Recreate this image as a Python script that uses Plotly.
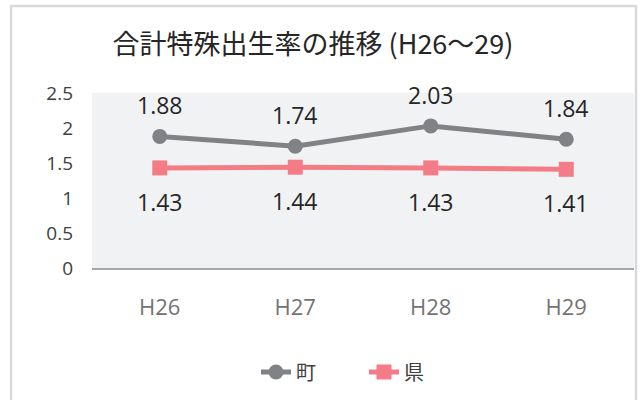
import plotly.graph_objects as go

categories = ["H26", "H27", "H28", "H29"]
town = [1.88, 1.74, 2.03, 1.84]
pref = [1.43, 1.44, 1.43, 1.41]
y_ticks = [0, 0.5, 1, 1.5, 2, 2.5]
y_tick_labels = ["0", "0.5", "1", "1.5", "2", "2.5"]

FONT = "Open Sans, Noto Sans CJK JP, sans-serif"
JP = "Noto Sans CJK JP, sans-serif"
W, H = 641, 400
L, T = 92, 93
R = W - 634
B = H - 268

def ax(p):
    return (p - L) / (W - L - R)
def ay(p):
    return (H - B - p) / (H - T - B)

fig = go.Figure()
fig.add_trace(go.Scatter(
    x=categories, y=town, name="町", mode="lines+markers",
    line=dict(color="#818285", width=5),
    marker=dict(symbol="circle", size=15, color="#818285"),
    cliponaxis=False,
))
fig.add_trace(go.Scatter(
    x=categories, y=pref, name="県", mode="lines+markers",
    line=dict(color="#F47C86", width=5),
    marker=dict(symbol="square", size=15, color="#F47C86"),
    cliponaxis=False,
))

annotations = []
for c, v in zip(categories, town):
    annotations.append(dict(x=c, y=v, text=f"{v:.2f}", showarrow=False, yshift=31,
                            font=dict(size=23, color="#262626", family=FONT)))
for c, v in zip(categories, pref):
    annotations.append(dict(x=c, y=v, text=f"{v:.2f}", showarrow=False, yshift=-34,
                            font=dict(size=23, color="#262626", family=FONT)))

fig.update_layout(
    width=W, height=H,
    margin=dict(l=L, r=R, t=T, b=B, autoexpand=False),
    paper_bgcolor="white",
    plot_bgcolor="#F1F2F4",
    font=dict(family=FONT, color="#404040"),
    title=dict(text="合計特殊出生率の推移 (H26～29)", x=313 / W, xanchor="center",
               y=1 - 45 / H, yanchor="middle",
               font=dict(size=27, color="#262626", family=JP)),
    showlegend=True,
    legend=dict(orientation="h", x=ax(256), xanchor="left", y=ay(372), yanchor="middle",
                font=dict(size=20, color="#404040", family=JP),
                entrywidth=63, entrywidthmode="pixels",
                traceorder="normal", bgcolor="rgba(0,0,0,0)"),
    xaxis=dict(type="category", range=[-0.5, 3.5], showgrid=False, zeroline=False,
               showline=True, linecolor="#A6A6A6", linewidth=2,
               tickfont=dict(size=22, color="#737373"), ticks="", ticklabelstandoff=19),
    yaxis=dict(range=[0, 2.5], tickvals=y_ticks, ticktext=y_tick_labels, showgrid=False,
               zeroline=False, showline=False, ticks="",
               tickfont=dict(size=19, color="#404040"), ticklabelstandoff=18),
    annotations=annotations,
    shapes=[dict(type="rect", xref="paper", yref="paper",
                 x0=ax(11), x1=ax(636), y0=ay(6), y1=ay(420),
                 line=dict(color="#D9D9D9", width=2.5), fillcolor="rgba(0,0,0,0)", layer="below")],
)

fig.write_html("out.html", config={"displayModeBar": False},
               post_script="document.body.style.margin='0';")
